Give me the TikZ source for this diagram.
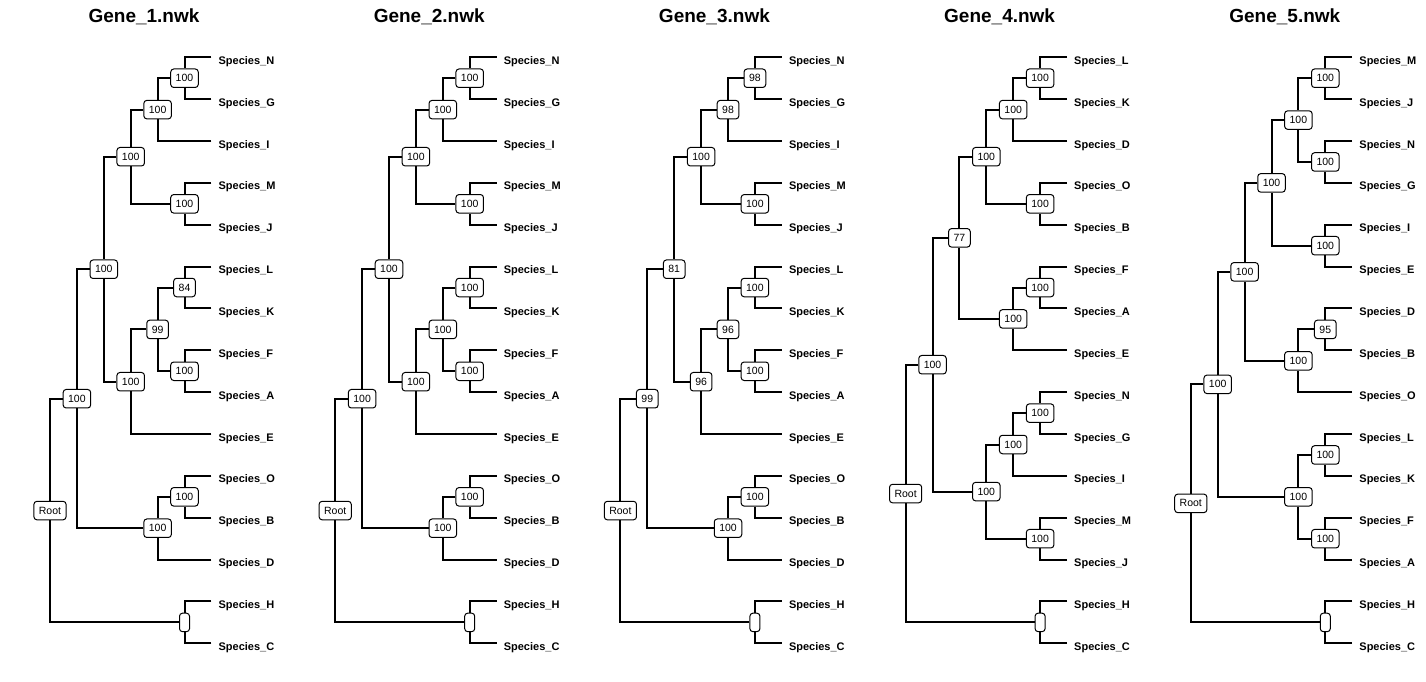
\documentclass[tikz,border=0pt]{standalone}
\usepackage{fontspec}
\setmainfont{Liberation Sans}
\tikzstyle{branchline} = [line width=2pt]
\tikzstyle{boot} = [rectangle, rounded corners=3pt,
minimum height=18.5pt,
inner xsep=5pt, inner ysep=0pt,
draw=black, line width=1pt,
fill=white,
font=\fontsize{10.5}{12}\selectfont]
\tikzstyle{leaf} = [anchor=base west, inner sep=0pt, xshift=7pt, yshift=-7pt, font=\fontsize{11}{13}\selectfont\bfseries]
\tikzstyle{gene} = [anchor=base, inner sep=0pt, font=\fontsize{19}{22}\selectfont\bfseries]

\begin{document}
\begin{tikzpicture}[x=1pt, y=-1pt]

		% canvas
		\useasboundingbox (0,0) rectangle (1426,681);

		% titles
		\node[gene] (title1) at (144,22.7) {Gene\_1.nwk};
		\node[gene] (title2) at (429.2,22.7) {Gene\_2.nwk};
		\node[gene] (title3) at (714.4,22.7) {Gene\_3.nwk};
		\node[gene] (title4) at (999.6,22.7) {Gene\_4.nwk};
		\node[gene] (title5) at (1284.8,22.7) {Gene\_5.nwk};

		% Gene_1
		\begin{scope}[shift={(50pt,-57.3pt)}, x=26.9pt, y=-41.86pt]
		\foreach \s [count=\i from 0] in {N,G,I,M,J,L,K,F,A,E,O,B,D,H,C} {
			\coordinate (t1\s) at (6,\i);
			\node[leaf] (s1\s) at (t1\s) {Species\_\s};
		}
		\node[boot] (a1) at (5,0.5) {100};
		\node[boot] (b1) at (4,1.25) {100};
		\node[boot] (c1) at (5,3.5) {100};
		\node[boot] (d1) at (3,2.375) {100};
		\node[boot] (e1) at (5,5.5) {84};
		\node[boot] (f1) at (5,7.5) {100};
		\node[boot] (g1) at (4,6.5) {99};
		\node[boot] (h1) at (3,7.75) {100};
		\node[boot] (i1) at (2,5.0625) {100};
		\node[boot] (j1) at (5,10.5) {100};
		\node[boot] (k1) at (4,11.25) {100};
		\node[boot] (l1) at (1,8.15625) {100};
		\node[boot] (m1) at (5,13.5) {};
		\node[boot] (r1) at (0,10.828) {Root};
		\foreach \c/\p in {t1N/a1, t1G/a1, a1/b1, t1I/b1, t1M/c1, t1J/c1, b1/d1, c1/d1,
			t1L/e1, t1K/e1, t1F/f1, t1A/f1, e1/g1, f1/g1, g1/h1, t1E/h1, d1/i1, h1/i1,
			t1O/j1, t1B/j1, j1/k1, t1D/k1, i1/l1, k1/l1, t1H/m1, t1C/m1, l1/r1, m1/r1}
			\draw[branchline] (\c) -| (\p);
		\end{scope}

		% Gene_2
		\begin{scope}[shift={(335.2pt,-57.3pt)}, x=26.9pt, y=-41.86pt]
		\foreach \s [count=\i from 0] in {N,G,I,M,J,L,K,F,A,E,O,B,D,H,C} {
			\coordinate (t2\s) at (6,\i);
			\node[leaf] (s2\s) at (t2\s) {Species\_\s};
		}
		\node[boot] (a2) at (5,0.5) {100};
		\node[boot] (b2) at (4,1.25) {100};
		\node[boot] (c2) at (5,3.5) {100};
		\node[boot] (d2) at (3,2.375) {100};
		\node[boot] (e2) at (5,5.5) {100};
		\node[boot] (f2) at (5,7.5) {100};
		\node[boot] (g2) at (4,6.5) {100};
		\node[boot] (h2) at (3,7.75) {100};
		\node[boot] (i2) at (2,5.0625) {100};
		\node[boot] (j2) at (5,10.5) {100};
		\node[boot] (k2) at (4,11.25) {100};
		\node[boot] (l2) at (1,8.15625) {100};
		\node[boot] (m2) at (5,13.5) {};
		\node[boot] (r2) at (0,10.828) {Root};
		\foreach \c/\p in {t2N/a2, t2G/a2, a2/b2, t2I/b2, t2M/c2, t2J/c2, b2/d2, c2/d2,
			t2L/e2, t2K/e2, t2F/f2, t2A/f2, e2/g2, f2/g2, g2/h2, t2E/h2, d2/i2, h2/i2,
			t2O/j2, t2B/j2, j2/k2, t2D/k2, i2/l2, k2/l2, t2H/m2, t2C/m2, l2/r2, m2/r2}
			\draw[branchline] (\c) -| (\p);
		\end{scope}

		% Gene_3
		\begin{scope}[shift={(620.4pt,-57.3pt)}, x=26.9pt, y=-41.86pt]
		\foreach \s [count=\i from 0] in {N,G,I,M,J,L,K,F,A,E,O,B,D,H,C} {
			\coordinate (t3\s) at (6,\i);
			\node[leaf] (s3\s) at (t3\s) {Species\_\s};
		}
		\node[boot] (a3) at (5,0.5) {98};
		\node[boot] (b3) at (4,1.25) {98};
		\node[boot] (c3) at (5,3.5) {100};
		\node[boot] (d3) at (3,2.375) {100};
		\node[boot] (e3) at (5,5.5) {100};
		\node[boot] (f3) at (5,7.5) {100};
		\node[boot] (g3) at (4,6.5) {96};
		\node[boot] (h3) at (3,7.75) {96};
		\node[boot] (i3) at (2,5.0625) {81};
		\node[boot] (j3) at (5,10.5) {100};
		\node[boot] (k3) at (4,11.25) {100};
		\node[boot] (l3) at (1,8.15625) {99};
		\node[boot] (m3) at (5,13.5) {};
		\node[boot] (r3) at (0,10.828) {Root};
		\foreach \c/\p in {t3N/a3, t3G/a3, a3/b3, t3I/b3, t3M/c3, t3J/c3, b3/d3, c3/d3,
			t3L/e3, t3K/e3, t3F/f3, t3A/f3, e3/g3, f3/g3, g3/h3, t3E/h3, d3/i3, h3/i3,
			t3O/j3, t3B/j3, j3/k3, t3D/k3, i3/l3, k3/l3, t3H/m3, t3C/m3, l3/r3, m3/r3}
			\draw[branchline] (\c) -| (\p);
		\end{scope}

		% Gene_4
		\begin{scope}[shift={(905.6pt,-57.3pt)}, x=26.9pt, y=-41.86pt]
		\foreach \s [count=\i from 0] in {L,K,D,O,B,F,A,E,N,G,I,M,J,H,C} {
			\coordinate (t4\s) at (6,\i);
			\node[leaf] (s4\s) at (t4\s) {Species\_\s};
		}
		\node[boot] (a4) at (5,0.5) {100};
		\node[boot] (b4) at (4,1.25) {100};
		\node[boot] (c4) at (5,3.5) {100};
		\node[boot] (d4) at (3,2.375) {100};
		\node[boot] (e4) at (5,5.5) {100};
		\node[boot] (f4) at (4,6.25) {100};
		\node[boot] (g4) at (2,4.3125) {77};
		\node[boot] (h4) at (5,8.5) {100};
		\node[boot] (i4) at (4,9.25) {100};
		\node[boot] (j4) at (5,11.5) {100};
		\node[boot] (k4) at (3,10.375) {100};
		\node[boot] (l4) at (1,7.34375) {100};
		\node[boot] (m4) at (5,13.5) {};
		\node[boot] (r4) at (0,10.421875) {Root};
		\foreach \c/\p in {t4L/a4, t4K/a4, a4/b4, t4D/b4, t4O/c4, t4B/c4, b4/d4, c4/d4,
			t4F/e4, t4A/e4, e4/f4, t4E/f4, d4/g4, f4/g4, t4N/h4, t4G/h4, h4/i4, t4I/i4,
			t4M/j4, t4J/j4, i4/k4, j4/k4, g4/l4, k4/l4, t4H/m4, t4C/m4, l4/r4, m4/r4}
			\draw[branchline] (\c) -| (\p);
		\end{scope}

		% Gene_5
		\begin{scope}[shift={(1190.8pt,-57.3pt)}, x=26.9pt, y=-41.86pt]
		\foreach \s [count=\i from 0] in {M,J,N,G,I,E,D,B,O,L,K,F,A,H,C} {
			\coordinate (t5\s) at (6,\i);
			\node[leaf] (s5\s) at (t5\s) {Species\_\s};
		}
		\node[boot] (a5) at (5,0.5) {100};
		\node[boot] (b5) at (5,2.5) {100};
		\node[boot] (c5) at (4,1.5) {100};
		\node[boot] (d5) at (5,4.5) {100};
		\node[boot] (e5) at (3,3) {100};
		\node[boot] (f5) at (5,6.5) {95};
		\node[boot] (g5) at (4,7.25) {100};
		\node[boot] (h5) at (2,5.125) {100};
		\node[boot] (i5) at (5,9.5) {100};
		\node[boot] (j5) at (5,11.5) {100};
		\node[boot] (k5) at (4,10.5) {100};
		\node[boot] (l5) at (1,7.8125) {100};
		\node[boot] (m5) at (5,13.5) {};
		\node[boot] (r5) at (0,10.65625) {Root};
		\foreach \c/\p in {t5M/a5, t5J/a5, t5N/b5, t5G/b5, a5/c5, b5/c5, t5I/d5, t5E/d5,
			c5/e5, d5/e5, t5D/f5, t5B/f5, f5/g5, t5O/g5, e5/h5, g5/h5, t5L/i5, t5K/i5,
			t5F/j5, t5A/j5, i5/k5, j5/k5, h5/l5, k5/l5, t5H/m5, t5C/m5, l5/r5, m5/r5}
			\draw[branchline] (\c) -| (\p);
		\end{scope}

	\end{tikzpicture}
\end{document}
